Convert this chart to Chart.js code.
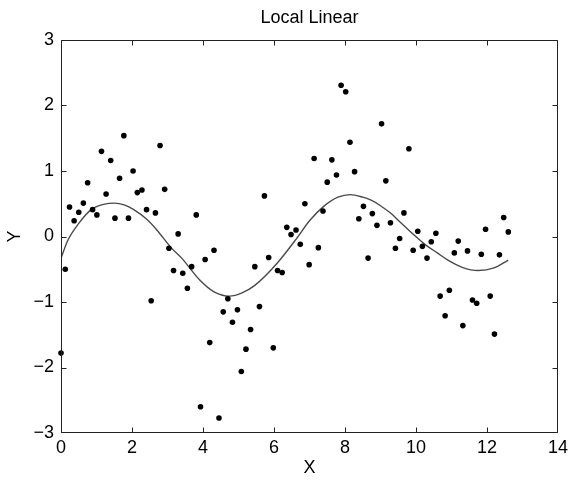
<!DOCTYPE html>
<html>
<head>
<meta charset="utf-8">
<script src="https://cdn.jsdelivr.net/npm/chart.js@4/dist/chart.umd.min.js"></script>
<style>
html,body{margin:0;padding:0;background:#fff;}
#wrap{width:569px;height:483px;}
</style>
</head>
<body>
<div id="wrap"><canvas id="c" width="569" height="483"></canvas></div>
<script>
// Observed data (x, y)
const obsX = [0.00,0.12,0.24,0.37,0.50,0.63,0.75,0.89,1.01,1.14,1.27,1.40,1.52,1.65,1.77,1.90,2.03,2.15,2.28,2.41,
  2.54,2.66,2.79,2.92,3.04,3.17,3.30,3.43,3.56,3.68,3.81,3.93,4.06,4.19,4.31,4.45,4.57,4.70,4.83,4.97,
  5.08,5.21,5.34,5.46,5.59,5.73,5.85,5.98,6.10,6.23,6.36,6.48,6.62,6.74,6.87,6.99,7.13,7.25,7.38,7.50,
  7.63,7.76,7.89,8.02,8.14,8.27,8.39,8.52,8.65,8.77,8.90,9.03,9.15,9.28,9.42,9.54,9.66,9.80,9.92,10.05,
  10.18,10.31,10.43,10.56,10.68,10.82,10.94,11.08,11.19,11.32,11.45,11.59,11.71,11.84,11.96,12.09,12.21,12.35,12.47,12.60];
const obsY = [-1.78,-0.50,0.45,0.24,0.37,0.51,0.82,0.41,0.33,1.30,0.65,1.16,0.28,0.89,1.54,0.28,1.00,0.67,0.71,0.41,
  -0.98,0.36,1.39,0.72,-0.18,-0.52,0.04,-0.56,-0.79,-0.46,0.33,-2.60,-0.35,-1.62,-0.21,-2.77,-1.15,-0.95,-1.31,-1.12,
  -2.06,-1.72,-1.42,-0.46,-1.07,0.62,-0.32,-1.70,-0.52,-0.55,0.14,0.03,0.10,-0.12,0.50,-0.43,1.19,-0.17,0.39,0.83,
  1.17,0.94,2.31,2.21,1.44,0.99,0.27,0.46,-0.33,0.35,0.17,1.72,0.85,0.21,-0.18,-0.03,0.36,1.34,-0.21,0.08,
  -0.15,-0.33,-0.08,0.05,-0.91,-1.21,-0.82,-0.25,-0.07,-1.36,-0.22,-0.97,-1.02,-0.27,0.11,-0.91,-1.49,-0.28,0.29,0.07];
// Local linear fit curve
const fitX = [0,0.2,0.5,0.85,1.2,1.5,1.8,2.05,2.4,2.7,3.1,3.4,3.9,4.3,4.75,5.1,5.45,6.1,6.65,7.0,7.4,7.8,8.15,8.5,8.75,9.0,9.3,9.55,9.85,10.25,10.6,10.9,11.3,11.75,12.2,12.6];
const fitY = [-0.33,-0.05,0.20,0.41,0.49,0.51,0.48,0.41,0.27,0.10,-0.17,-0.33,-0.66,-0.84,-0.91,-0.86,-0.75,-0.40,-0.02,0.24,0.46,0.60,0.64,0.60,0.55,0.47,0.35,0.22,0.07,-0.12,-0.25,-0.36,-0.47,-0.52,-0.48,-0.36];
// Axis ticks
const xTicks = [0,2,4,6,8,10,12,14];
const yTicks = [-3,-2,-1,0,1,2,3];
const titleText = 'Local Linear';

const FONT = "'Liberation Sans', Arial, Helvetica, sans-serif";
const AXC = '#222';

const boxPlugin = {
  id: 'boxTicks',
  afterDatasetsDraw(chart) {
    const {ctx, chartArea: a, scales} = chart;
    const l = Math.round(a.left) + 0.5, r = Math.round(a.right) - 0.5;
    const t = Math.round(a.top) + 0.5, b = Math.round(a.bottom) - 0.5;
    ctx.save();
    ctx.strokeStyle = AXC;
    ctx.lineWidth = 1;
    ctx.beginPath();
    ctx.rect(l, t, r - l, b - t);
    ctx.stroke();
    const L = 5;
    ctx.beginPath();
    xTicks.forEach(v => {
      let px = Math.round(scales.x.getPixelForValue(v)) + 0.5;
      px = Math.min(Math.max(px, l), r);
      ctx.moveTo(px, b); ctx.lineTo(px, b - L);
      ctx.moveTo(px, t); ctx.lineTo(px, t + L);
    });
    yTicks.forEach(v => {
      let py = Math.round(scales.y.getPixelForValue(v)) + 0.5;
      py = Math.min(Math.max(py, t), b);
      ctx.moveTo(l, py); ctx.lineTo(l + L, py);
      ctx.moveTo(r, py); ctx.lineTo(r - L, py);
    });
    ctx.stroke();
    // title centred over the plot area
    ctx.fillStyle = '#000';
    ctx.font = "18px " + FONT;
    ctx.textAlign = 'center';
    ctx.textBaseline = 'middle';
    ctx.fillText(titleText, (a.left + a.right) / 2, 18);
    ctx.restore();
  }
};

const fmt = v => (v < 0 ? '\u2212' + Math.abs(v) : String(v));

new Chart(document.getElementById('c'), {
  type: 'scatter',
  data: {
    datasets: [
      {
        label: 'Data',
        data: obsX.map((x, i) => ({x, y: obsY[i]})),
        backgroundColor: '#000',
        borderColor: '#000',
        pointRadius: 2.8,
        pointBorderWidth: 0,
        clip: false,
        order: 1
      },
      {
        label: 'Local Linear',
        type: 'line',
        data: fitX.map((x, i) => ({x, y: fitY[i]})),
        borderColor: '#4a4a4a',
        borderWidth: 1.4,
        pointRadius: 0,
        fill: false,
        cubicInterpolationMode: 'monotone',
        order: 2
      }
    ]
  },
  options: {
    responsive: false,
    animation: false,
    devicePixelRatio: 1,
    layout: { padding: { left: 0, right: 11, top: 40, bottom: 0 } },
    plugins: {
      legend: { display: false },
      tooltip: { enabled: false },
      title: { display: false }
    },
    scales: {
      x: {
        type: 'linear',
        min: 0, max: 14,
        afterBuildTicks: s => { s.ticks = xTicks.map(v => ({value: v})); },
        afterFit: s => { s.height = 50; s.paddingLeft = 0; s.paddingRight = 0; },
        grid: { display: false, drawTicks: false },
        border: { display: false },
        ticks: { color: '#000', font: { family: FONT, size: 18 }, padding: 4, callback: fmt, maxRotation: 0 },
        title: { display: true, text: 'X', color: '#000', font: { family: FONT, size: 18 }, padding: { top: 0, bottom: 4 } }
      },
      y: {
        type: 'linear',
        min: -3, max: 3,
        afterBuildTicks: s => { s.ticks = yTicks.map(v => ({value: v})); },
        afterFit: s => { s.width = 61; s.paddingTop = 0; s.paddingBottom = 0; },
        grid: { display: false, drawTicks: false },
        border: { display: false },
        ticks: { color: '#000', font: { family: FONT, size: 18 }, padding: 7, callback: fmt },
        title: { display: true, text: 'Y', color: '#000', font: { family: FONT, size: 18 }, padding: { top: 4, bottom: 0 } }
      }
    }
  },
  plugins: [boxPlugin]
});
</script>
</body>
</html>
